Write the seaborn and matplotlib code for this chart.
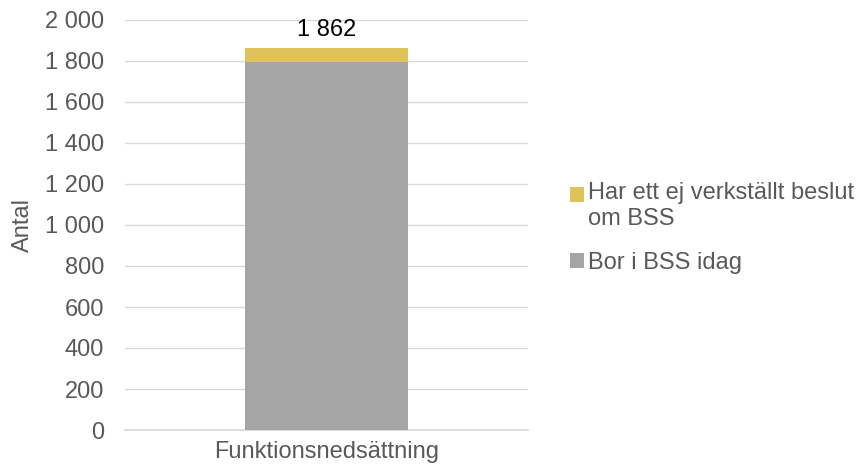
import matplotlib
matplotlib.use("Agg")
import matplotlib.pyplot as plt
import seaborn as sns
import pandas as pd
from matplotlib.patches import Patch, Rectangle
from matplotlib.legend_handler import HandlerPatch
from matplotlib.ticker import FuncFormatter

categories = ["Funktionsnedsättning"]
bor_i_bss = [1796]
ej_verkstallt = [66]
series_names = ["Har ett ej verkställt beslut\nom BSS", "Bor i BSS idag"]
colors = ["#dfc35a", "#a5a5a5"]
yticks = [0, 200, 400, 600, 800, 1000, 1200, 1400, 1600, 1800, 2000]

totals = [a + b for a, b in zip(bor_i_bss, ej_verkstallt)]
df = pd.DataFrame({"kategori": categories, "total": totals, "bor": bor_i_bss})

sns.set_theme(style="white")
plt.rcParams["font.family"] = ["Liberation Sans", "DejaVu Sans"]
text_color = "#595959"
FS = 17

fig = plt.figure(figsize=(8.59, 4.73), dpi=100)
L, R, B, T = 125, 528, 430, 20
ax = fig.add_axes([L / 859, 1 - B / 473, (R - L) / 859, (B - T) / 473])

sns.barplot(data=df, x="kategori", y="total", color=colors[0], saturation=1,
            width=0.402, ax=ax, zorder=2, linewidth=0, edgecolor="none")
sns.barplot(data=df, x="kategori", y="bor", color=colors[1], saturation=1,
            width=0.402, ax=ax, zorder=3, linewidth=0, edgecolor="none")

ax.set_xlim(-0.5, 0.5)
ax.set_ylim(0, 2000)
ax.set_yticks(yticks)
ax.yaxis.set_major_formatter(FuncFormatter(lambda v, p: f"{int(v):,}".replace(",", " ")))
ax.grid(axis="y", color="#d9d9d9", linewidth=1, zorder=0)
ax.set_axisbelow(True)
for s in ["top", "right", "left"]:
    ax.spines[s].set_visible(False)
ax.spines["bottom"].set_color("#d9d9d9")
ax.tick_params(axis="y", length=0, labelsize=FS, colors=text_color, pad=15)
ax.tick_params(axis="x", length=0, labelsize=FS, colors=text_color, pad=8)
ax.set_xlabel("")
ax.set_ylabel("Antal", fontsize=FS, color=text_color)
ax.yaxis.set_label_coords((34 - L) / (R - L), 0.5)

for i, t in enumerate(totals):
    ax.text(i, t + 58, f"{t:,}".replace(",", " "), ha="center", va="baseline",
            fontsize=FS, color="black")

SHIFT_PT = 12 / (fig.dpi / 72)


def top_line_patch(legend, orig_handle, xdescent, ydescent, width, height, fontsize):
    return Rectangle((-xdescent, -ydescent + SHIFT_PT), width, height)


handles = [Patch(facecolor=c, edgecolor="none") for c in colors]
leg = fig.legend(handles, series_names, loc="upper left",
                 bbox_to_anchor=(570 / 859, 1 - 182 / 473), frameon=False,
                 borderpad=0, borderaxespad=0,
                 fontsize=FS, handlelength=0.6, handleheight=0.6,
                 handletextpad=0.17, labelspacing=0.9, labelcolor=text_color,
                 handler_map={handles[0]: HandlerPatch(patch_func=top_line_patch)})
for t in leg.get_texts():
    t.set_linespacing(1.25)

fig.savefig("out.png", dpi=100)
